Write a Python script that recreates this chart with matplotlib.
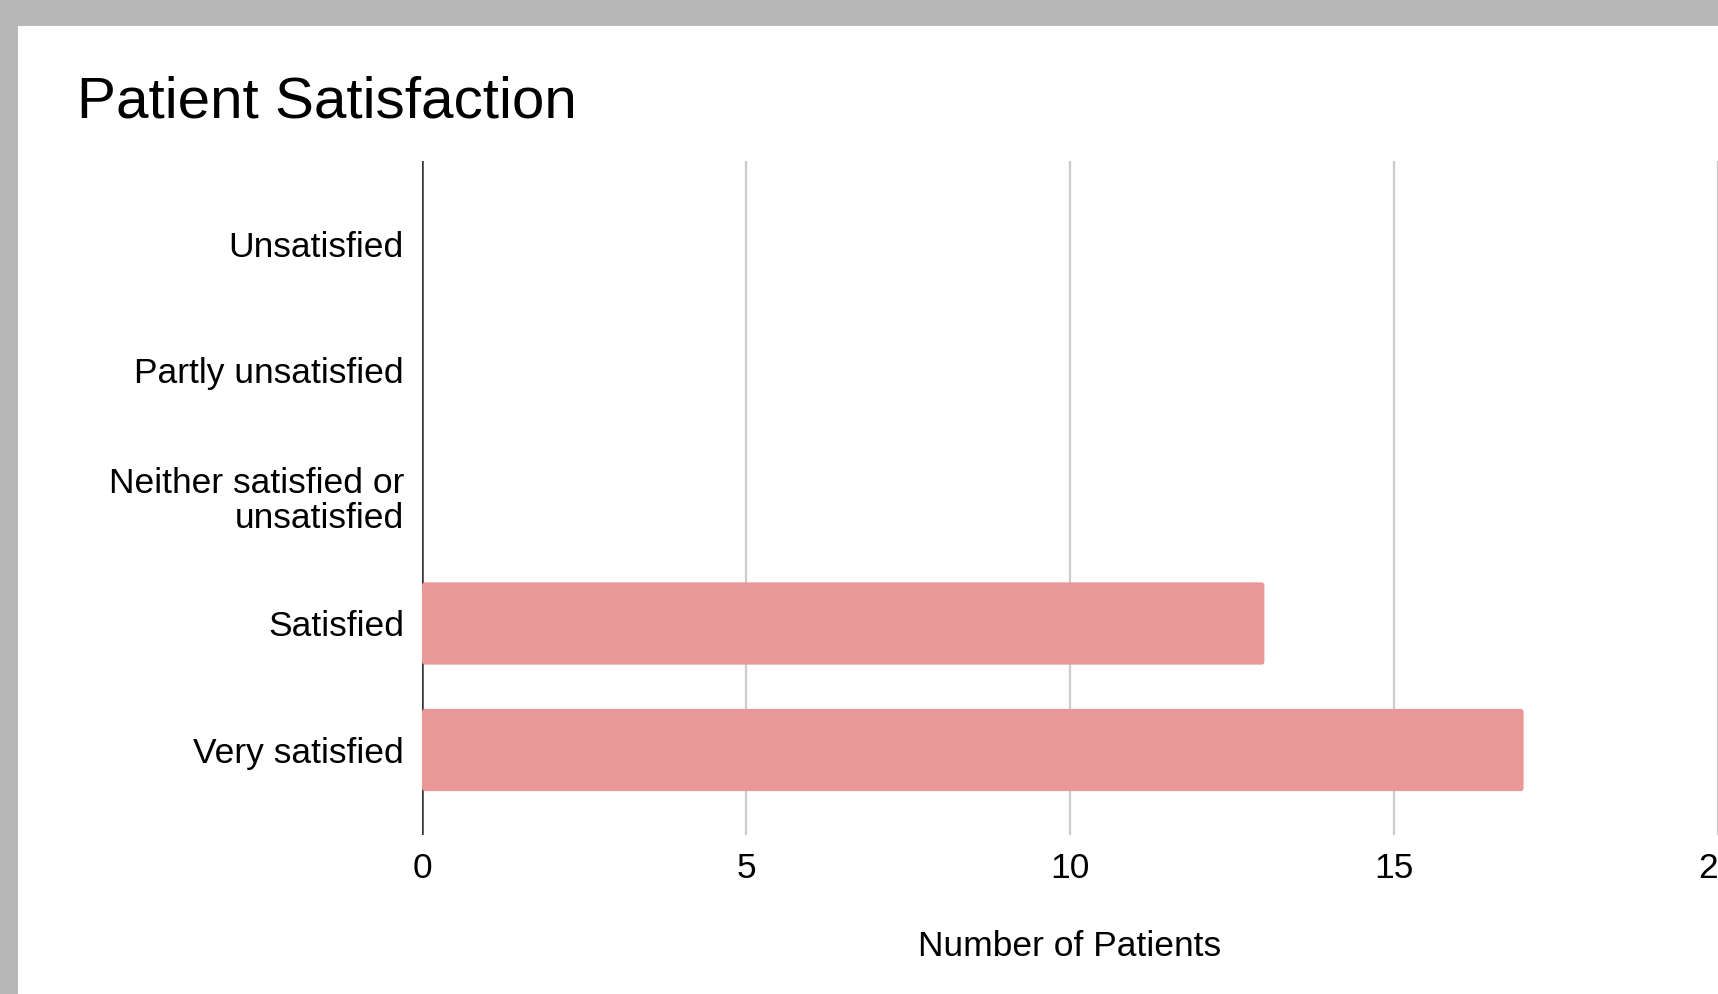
import numpy as np
import matplotlib
matplotlib.use("Agg")
import matplotlib.pyplot as plt
from matplotlib.patches import Rectangle, FancyBboxPatch

plt.rcParams['font.family'] = ['Liberation Sans', 'DejaVu Sans']

# data
categories = ['Unsatisfied', 'Partly unsatisfied', 'Neither satisfied or\nunsatisfied',
              'Satisfied', 'Very satisfied']
patients = [0, 0, 0, 13, 17]
xticks = [0, 5, 10, 15, 20]

W, H = 1718, 994
fig = plt.figure(figsize=[W/100., H/100.], dpi=100, facecolor='#b7b7b7')
# white chart card inside the grey screenshot border
fig.add_artist(Rectangle((18./W, 0), 1, (H-26.)/H, transform=fig.transFigure,
                         facecolor='white', edgecolor='none', zorder=0))

ax = fig.add_axes([422./W, (H-835.)/H, 1296./W, 674./H])
ax.set_facecolor('none')

ypos = np.arange(len(categories))[::-1]
bars = ax.barh(ypos, patients, height=0.65, color='#e99797', zorder=3)
# swap plain rectangles for slightly rounded ones
for b in bars:
    if b.get_width() <= 0:
        continue
    rb = FancyBboxPatch((b.get_x(), b.get_y()), b.get_width(), b.get_height(),
                        boxstyle='round,pad=0,rounding_size=0.05', mutation_aspect=0.5,
                        facecolor='#e99797', edgecolor='none', zorder=3)
    b.set_visible(False)
    ax.add_patch(rb)

for x in xticks[1:]:
    ax.axvline(x, color='#cccccc', lw=1.6, zorder=1)
ax.axvline(0, color='#333333', lw=1.8, zorder=2)

ax.set_xlim(0, 20); ax.set_ylim(-0.672, 4.656)
ax.set_xticks(xticks)
ax.set_yticks(ypos); ax.set_yticklabels(categories, linespacing=1.05)
for s in ax.spines.values(): s.set_visible(False)
ax.tick_params(axis='both', length=0, labelsize=25.5, colors='#000000')
ax.tick_params(axis='y', pad=13)
ax.tick_params(axis='x', pad=12)
ax.set_xlabel('Number of Patients', fontsize=25.5, color='#000000', labelpad=33)

fig.text(77./W, 1-118./H, 'Patient Satisfaction', fontsize=42, color='#000000',
         ha='left', va='baseline')

plt.savefig('out.png', dpi=100, facecolor=fig.get_facecolor())
